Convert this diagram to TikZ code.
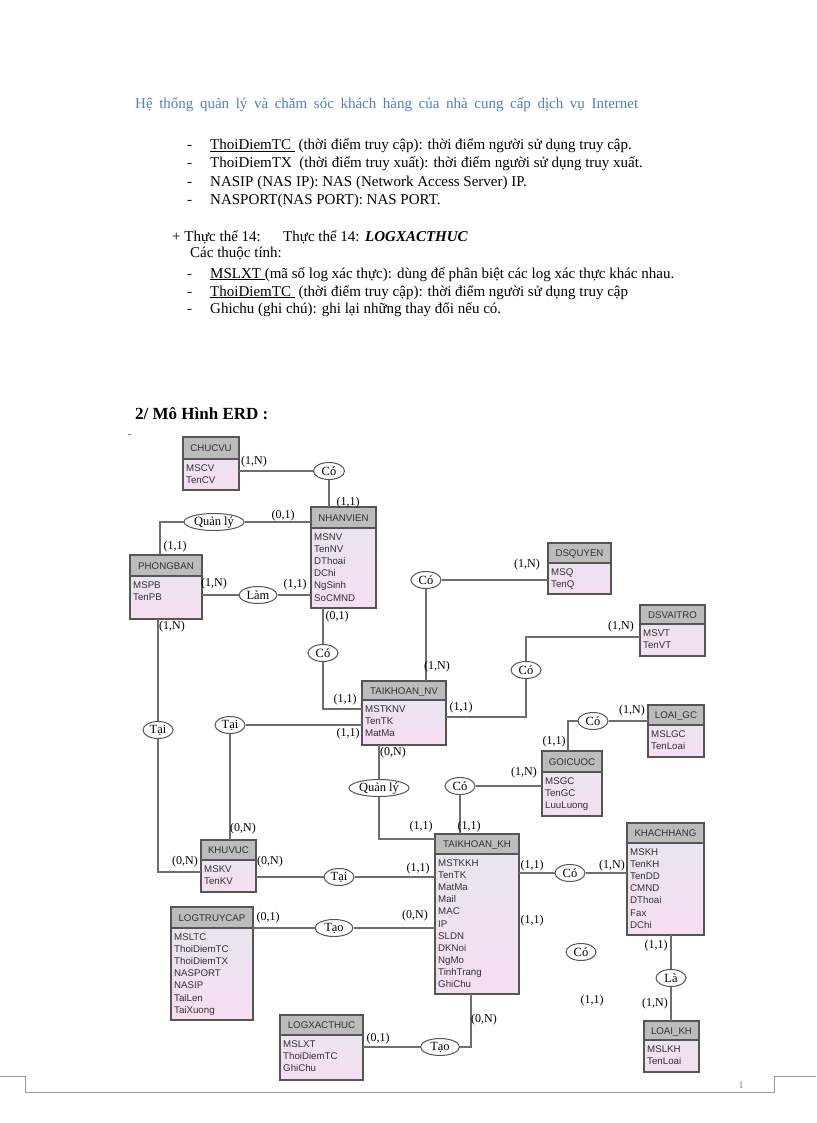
\documentclass[tikz,border=0pt]{standalone}
\usepackage{fontspec}
\setmainfont{Liberation Serif}
\setsansfont{Liberation Sans}
\usetikzlibrary{shapes.geometric,calc}
\definecolor{ttl}{RGB}{79,129,189}
\definecolor{hdr}{RGB}{188,188,188}
\definecolor{btop}{RGB}{230,230,238}
\definecolor{bbot}{RGB}{246,222,242}
\definecolor{edge}{RGB}{85,85,85}
\definecolor{conncol}{RGB}{110,110,110}
\definecolor{etext}{RGB}{50,50,50}
\tikzset{
 entbody/.style={draw=edge, line width=1.2pt, top color=btop, bottom color=bbot, inner sep=0pt, outer sep=0pt, rectangle},
 enthead/.style={draw=edge, line width=1.2pt, fill=hdr, inner sep=0pt, outer sep=0pt, rectangle},
 enttitle/.style={font=\sffamily\fontsize{9.7}{11}\selectfont, text=etext, inner sep=0pt},
 attr/.style={font=\sffamily\fontsize{9.7}{11}\selectfont, text=etext, inner sep=0pt},
 rel/.style={ellipse, draw=edge, line width=1pt, fill=white, minimum height=17pt, inner sep=0pt, font=\fontsize{12.5}{13}\selectfont},
 card/.style={font=\fontsize{12}{13}\selectfont, inner sep=0pt},
 conn/.style={draw=conncol, line width=1.1pt},
 body/.style={font=\fontsize{15}{17}\selectfont, inner sep=0pt, anchor=base west},
}
\newcommand{\ent}[8]{%
  \node[entbody, minimum width={(#4-#2)*1pt}, minimum height={(#6-#3)*1pt}, anchor=north west] (#1) at (#2,#3) {};
  \node[enthead, minimum width={(#4-#2)*1pt}, minimum height={(#5-#3)*1pt}, anchor=north west] (#1-h) at (#2,#3) {};
  \node[enttitle, anchor=base] (#1-t) at ({(#2+#4)/2},{(#3+#5)/2+3.6}) {#7};
  \foreach \a [count=\i] in {#8} \node[attr, anchor=base west] (#1-\i) at ({#2+3},{#5+12.5+(\i-1)*12.1}) {\a};
}
\begin{document}
\begin{tikzpicture}[x=1pt,y=-1pt]
\fill[white] (0,0) rectangle (816,1123);
\useasboundingbox (0,0) rectangle (816,1123);

% ---------- header text ----------
\node[body, text=ttl, font=\fontsize{15}{17}\selectfont] (title) at (135,109) {\makebox[503pt][s]{Hệ thống quản lý và chăm sóc khách hàng của nhà cung cấp dịch vụ Internet}};
\node[body] (d1) at (187,150) {-};
\node[body] (t1) at (210,150) {\underline{ThoiDiemTC\ } (thời điểm truy cập): thời điểm người sử dụng truy cập.};
\node[body] (d2) at (187,168) {-};
\node[body] (t2) at (210,168) {ThoiDiemTX\ \ (thời điểm truy xuất): thời điểm người sử dụng truy xuất.};
\node[body] (d3) at (187,187) {-};
\node[body] (t3) at (210,187) {NASIP (NAS IP): NAS (Network Access Server) IP.};
\node[body] (d4) at (187,205) {-};
\node[body] (t4) at (210,205) {NASPORT(NAS PORT): NAS PORT.};
\node[body] (p1) at (172,241) {+ Thực thể 14:};
\node[body] (p2) at (283,241) {Thực thể 14:};
\node[body] (p3) at (365,241) {\textbf{\textit{LOGXACTHUC}}};
\node[body] (p4) at (190,258) {Các thuộc tính:};
\node[body] (d5) at (187,278) {-};
\node[body] (t5) at (210,278) {\underline{MSLXT\ }(mã số log xác thực): dùng để phân biệt các log xác thực khác nhau.};
\node[body] (d6) at (187,296) {-};
\node[body] (t6) at (210,296) {\underline{ThoiDiemTC\ } (thời điểm truy cập): thời điểm người sử dụng truy cập};
\node[body] (d7) at (187,313) {-};
\node[body] (t7) at (210,313) {Ghichu (ghi chú): ghi lại những thay đổi nếu có.};
\node[body, font=\bfseries\fontsize{17}{19}\selectfont] (erd) at (135,419) {2/ Mô Hình ERD :};
\draw[gray, line width=0.6pt] (128,434.5) -- (131,434.5);

% ---------- entities ----------
\ent{cv}{183}{437}{239}{459}{490}{CHUCVU}{MSCV,TenCV}
\ent{nv}{311}{507}{376}{528}{608}{NHANVIEN}{MSNV,TenNV,DThoai,DChi,NgSinh,SoCMND}
\ent{pb}{130}{555}{202}{576}{619}{PHONGBAN}{MSPB,TenPB}
\ent{dsq}{548}{543}{611}{563}{594}{DSQUYEN}{MSQ,TenQ}
\ent{dsv}{640}{605}{705}{624}{656}{DSVAITRO}{MSVT,TenVT}
\ent{tknv}{362}{681}{446}{700}{745}{TAIKHOAN\_NV}{MSTKNV,TenTK,MatMa}
\ent{lgc}{648}{705}{704}{725}{757}{LOAI\_GC}{MSLGC,TenLoai}
\ent{gc}{542}{751}{602}{772}{816}{GOICUOC}{MSGC,TenGC,LuuLuong}
\ent{kv}{201}{840}{256}{860}{892}{KHUVUC}{MSKV,TenKV}
\ent{tkkh}{435}{834}{519}{854}{994}{TAIKHOAN\_KH}{MSTKKH,TenTK,MatMa,Mail,MAC,IP,SLDN,DKNoi,NgMo,TinhTrang,GhiChu}
\ent{kh}{627}{823}{704}{843}{935}{KHACHHANG}{MSKH,TenKH,TenDD,CMND,DThoai,Fax,DChi}
\ent{ltc}{171}{907}{253}{928}{1020}{LOGTRUYCAP}{MSLTC,ThoiDiemTC,ThoiDiemTX,NASPORT,NASIP,TaiLen,TaiXuong}
\ent{lxt}{280}{1015}{363}{1035}{1080}{LOGXACTHUC}{MSLXT,ThoiDiemTC,GhiChu}
\ent{lkh}{644}{1021}{699}{1040}{1072}{LOAI\_KH}{MSLKH,TenLoai}

% ---------- helper coordinates ----------
\coordinate (h1) at (160,0);
\coordinate (h2) at (0,709);
\coordinate (h3) at (0,637);
\coordinate (h4) at (0,717);
\coordinate (h5) at (0,872);
\coordinate (h6) at (0,839);
\coordinate (h7) at (568,0);
\coordinate (h8) at (471,0);

% ---------- relationships ----------
\node[rel, minimum width=31pt] (co1) at (329,471) {Có};
\node[rel, minimum width=60pt] (ql1) at (214,522) {Quản lý};
\node[rel, minimum width=38pt] (lam) at (258,595) {Làm};
\node[rel, minimum width=30pt] (co2) at (323,653) {Có};
\node[rel, minimum width=30pt] (co3) at (426,580) {Có};
\node[rel, minimum width=30pt] (co4) at (526,670) {Có};
\node[rel, minimum width=30pt] (tai1) at (158,730) {Tại};
\node[rel, minimum width=30pt] (tai2) at (230,725) {Tại};
\node[rel, minimum width=60pt] (ql2) at (379,788) {Quản lý};
\node[rel, minimum width=30pt] (co5) at (593,721) {Có};
\node[rel, minimum width=30pt] (co6) at (460,786) {Có};
\node[rel, minimum width=30pt] (tai3) at (339,877) {Tại};
\node[rel, minimum width=30pt] (co7) at (570,873) {Có};
\node[rel, minimum width=30pt] (co8) at (581,952) {Có};
\node[rel, minimum width=30pt] (la) at (671,978) {Là};
\node[rel, minimum width=38pt] (tao1) at (334,928) {Tạo};
\node[rel, minimum width=39pt] (tao2) at (440,1047) {Tạo};

% ---------- connectors ----------
\draw[conn] (cv.east |- co1.west) -- (co1.west);
\draw[conn] (co1.south) -- (co1.south |- nv.north);
\draw[conn] (ql1.east) -- (ql1.east -| nv.west);
\draw[conn] (ql1.west) -| (h1 |- pb.north);
\draw[conn] (pb.east |- lam.west) -- (lam.west);
\draw[conn] (lam.east) -- (lam.east -| nv.west);
\draw[conn] (co2.north) -- (co2.north |- nv.south);
\draw[conn] (co2.south) |- (h2 -| tknv.west);
\draw[conn] (co3.east) -- (co3.east -| dsq.west);
\draw[conn] (co3.south) -- (co3.south |- tknv.north);
\draw[conn] (h3 -| dsv.west) -| (co4.north);
\draw[conn] (co4.south) |- (h4 -| tknv.east);
\draw[conn] (tai1.north) -- (tai1.north |- pb.south);
\draw[conn] (tai1.south) |- (h5 -| kv.west);
\draw[conn] (tai2.south) -- (tai2.south |- kv.north);
\draw[conn] (tai2.east) -- (tai2.east -| tknv.west);
\draw[conn] (ql2.north) -- (ql2.north |- tknv.south);
\draw[conn] (ql2.south) |- (h6 -| tkkh.west);
\draw[conn] (h7 |- gc.north) |- (co5.west);
\draw[conn] (co5.east) -- (co5.east -| lgc.west);
\draw[conn] (co6.east) -- (co6.east -| gc.west);
\draw[conn] (co6.south) -- (co6.south |- tkkh.north);
\draw[conn] (kv.east |- tai3.west) -- (tai3.west);
\draw[conn] (tai3.east) -- (tai3.east -| tkkh.west);
\draw[conn] (tkkh.east |- co7.west) -- (co7.west);
\draw[conn] (co7.east) -- (co7.east -| kh.west);
\draw[conn] (la.north) -- (la.north |- kh.south);
\draw[conn] (la.south) -- (la.south |- lkh.north);
\draw[conn] (ltc.east |- tao1.west) -- (tao1.west);
\draw[conn] (tao1.east) -- (tao1.east -| tkkh.west);
\draw[conn] (lxt.east |- tao2.west) -- (tao2.west);
\draw[conn] (tao2.east) -| (h8 |- tkkh.south);

% ---------- cardinalities ----------
\node[card] (k1) at (254,462) {(1,N)};
\node[card] (k2) at (348,503) {(1,1)};
\node[card] (k3) at (283,516) {(0,1)};
\node[card] (k4) at (175,547) {(1,1)};
\node[card] (k5) at (214,584) {(1,N)};
\node[card] (k6) at (295,585) {(1,1)};
\node[card] (k7) at (172,627) {(1,N)};
\node[card] (k8) at (337,617) {(0,1)};
\node[card] (k9) at (345,700) {(1,1)};
\node[card] (k10) at (527,565) {(1,N)};
\node[card] (k11) at (437,667) {(1,N)};
\node[card] (k12) at (621,627) {(1,N)};
\node[card] (k13) at (461,708) {(1,1)};
\node[card] (k14) at (348,734) {(1,1)};
\node[card] (k15) at (393,753) {(0,N)};
\node[card] (k16) at (554,742) {(1,1)};
\node[card] (k17) at (632,711) {(1,N)};
\node[card] (k18) at (524,773) {(1,N)};
\node[card] (k19) at (469,827) {(1,1)};
\node[card] (k20) at (421,827) {(1,1)};
\node[card] (k21) at (243,829) {(0,N)};
\node[card] (k22) at (185,862) {(0,N)};
\node[card] (k23) at (270,862) {(0,N)};
\node[card] (k24) at (418,869) {(1,1)};
\node[card] (k25) at (532,866) {(1,1)};
\node[card] (k26) at (612,866) {(1,N)};
\node[card] (k27) at (532,921) {(1,1)};
\node[card] (k28) at (592,1001) {(1,1)};
\node[card] (k29) at (656,946) {(1,1)};
\node[card] (k30) at (655,1004) {(1,N)};
\node[card] (k31) at (268,918) {(0,1)};
\node[card] (k32) at (415,916) {(0,N)};
\node[card] (k33) at (484,1020) {(0,N)};
\node[card] (k34) at (378,1039) {(0,1)};

% ---------- page footer ----------
\draw[gray!80, line width=0.8pt] (0,1076) -- (25,1076) -- (25,1092) -- (774,1092) -- (774,1076) -- (816,1076);
\node[card, font=\fontsize{10}{11}\selectfont, text=gray] (pg) at (741,1085) {1};
\end{tikzpicture}
\end{document}
